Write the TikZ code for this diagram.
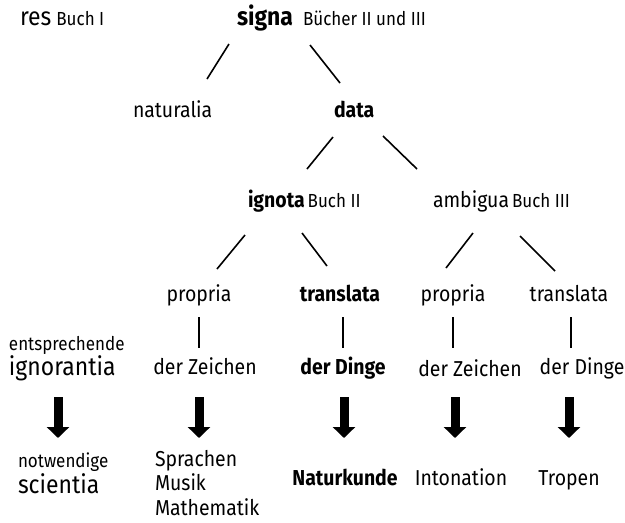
\documentclass[tikz,border=0pt]{standalone}
\usepackage{fontspec}
\setmainfont{Fira Sans}[FakeStretch=0.9]
\usetikzlibrary{arrows.meta}
\begin{document}
\begin{tikzpicture}[x=1pt,y=-1pt,
  every node/.style={inner sep=0pt, outer sep=0pt},
  lg/.style={font=\fontsize{25.5}{30}\selectfont},
  nm/.style={font=\fontsize{21.6}{26}\selectfont},
  sm/.style={font=\fontsize{18.9}{22}\selectfont},
  edge/.style={line width=1.6pt},
  fat/.style={line width=9pt, -{Triangle[width=22pt,length=11pt]}}]
\useasboundingbox (0,0) rectangle (625,523);
\newcommand{\smtxt}{\fontsize{18.9}{22}\selectfont}
% row 0
\node[lg, anchor=base west] (res) at (20,25) {res\hspace{5pt}{\smtxt Buch I}};
\node[lg, anchor=base west] (signa) at (237,25) {\textbf{signa}\hspace{10pt}{\smtxt Bücher II und III}};
% row 1
\node[nm, anchor=base west] (naturalia) at (133,117) {naturalia};
\node[nm, anchor=base west] (data) at (334,117) {\textbf{data}};
% row 2
\node[nm, anchor=base west] (ignota) at (248,207) {\textbf{ignota}\hspace{3pt}{\smtxt Buch II}};
\node[nm, anchor=base west] (ambigua) at (433,207) {ambigua\hspace{3pt}{\smtxt Buch III}};
% row 3
\node[nm, anchor=base] (prop1) at (199,301) {propria};
\node[nm, anchor=base] (trans1) at (340,301) {\textbf{translata}};
\node[nm, anchor=base] (prop2) at (453,301) {propria};
\node[nm, anchor=base] (trans2) at (569,301) {translata};
% row 4
\node[sm, anchor=base west] (entspr) at (9,350) {entsprechende};
\node[lg, anchor=base west] (ignor) at (9,375) {ignorantia};
\node[nm, anchor=base] (zei1) at (205,374) {der Zeichen};
\node[nm, anchor=base] (din1) at (343,374) {\textbf{der Dinge}};
\node[nm, anchor=base] (zei2) at (470,376) {der Zeichen};
\node[nm, anchor=base] (din2) at (582,374) {der Dinge};
% row 5
\node[sm, anchor=base west] (notw) at (18,467) {notwendige};
\node[lg, anchor=base west] (scient) at (18,493) {scientia};
\node[nm, anchor=base west] (spr) at (155,466) {Sprachen};
\node[nm, anchor=base west] (mus) at (155,490.5) {Musik};
\node[nm, anchor=base west] (math) at (155,515) {Mathematik};
\node[nm, anchor=base] (natk) at (345,485) {\textbf{Naturkunde}};
\node[nm, anchor=base] (inton) at (461,485) {Intonation};
\node[nm, anchor=base] (trop) at (569,485) {Tropen};
% connector ends
\coordinate (s1a) at (229,44);  \coordinate (s1b) at (207,79);
\coordinate (s2a) at (310,45);  \coordinate (s2b) at (340,83);
\coordinate (d1a) at (333,137); \coordinate (d1b) at (307,169);
\coordinate (d2a) at (383,136); \coordinate (d2b) at (417,169);
\coordinate (i1a) at (245,235); \coordinate (i1b) at (217,269);
\coordinate (i2a) at (302,233); \coordinate (i2b) at (327,266);
\coordinate (a1a) at (473,233); \coordinate (a1b) at (446,268);
\coordinate (a2a) at (520,236); \coordinate (a2b) at (555,271);
\draw[edge] (s1a) -- (s1b);
\draw[edge] (s2a) -- (s2b);
\draw[edge] (d1a) -- (d1b);
\draw[edge] (d2a) -- (d2b);
\draw[edge] (i1a) -- (i1b);
\draw[edge] (i2a) -- (i2b);
\draw[edge] (a1a) -- (a1b);
\draw[edge] (a2a) -- (a2b);
% vertical bars
\foreach \n/\x in {v1/199, v2/343, v3/453, v4/571} {
  \coordinate (\n a) at (\x,317); \coordinate (\n b) at (\x,348);
  \draw[edge] (\n a) -- (\n b);
}
% fat arrows
\foreach \n/\x in {f1/58, f2/199, f3/344, f4/455, f5/569} {
  \coordinate (\n a) at (\x,397); \coordinate (\n b) at (\x,438);
  \draw[fat] (\n a) -- (\n b);
}
\end{tikzpicture}
\end{document}
